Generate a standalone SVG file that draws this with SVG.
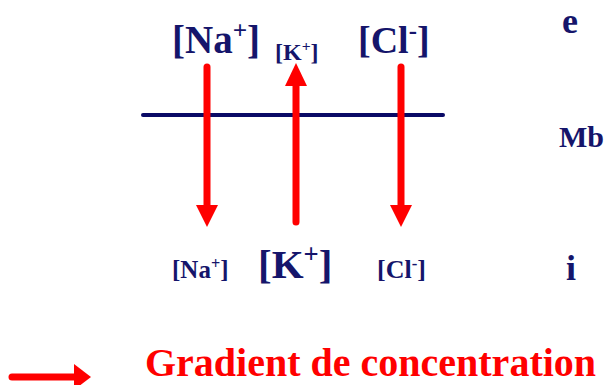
<svg xmlns="http://www.w3.org/2000/svg" width="610" height="385" viewBox="0 0 610 385">
<style>
.t{font-family:"Liberation Serif",Tinos,"Times New Roman",Times,"DejaVu Serif",serif;font-weight:bold;fill:#15156b}
.g{font-family:"Liberation Serif",Tinos,"Times New Roman",Times,"DejaVu Serif",serif;font-weight:bold;fill:#ff0000}
.sup{font-size:65%}
.shaft{stroke:#ff0000;stroke-width:7;stroke-linecap:round;fill:none}
.head{fill:#ff0000}
.mb{stroke:#0a0a66;stroke-width:4;stroke-linecap:round}
</style>
<rect width="610" height="385" fill="#ffffff"/>
<g id="membrane"><line class="mb" x1="143" y1="115" x2="443" y2="115"/></g>
<g id="connectors">
  <line class="shaft" x1="207" y1="67" x2="207" y2="207"/>
  <polygon class="head" points="196,205 218,205 207,227"/>
  <line class="shaft" x1="296" y1="222" x2="296" y2="84"/>
  <polygon class="head" points="285,86 307,86 296,63"/>
  <line class="shaft" x1="401" y1="67" x2="401" y2="207"/>
  <polygon class="head" points="390,205 412,205 401,227"/>
</g>
<g id="na-ext"><text class="t" x="172" y="53" font-size="39">[Na<tspan class="sup" dy="-14">+</tspan><tspan dy="14">]</tspan></text></g>
<g id="k-ext"><text class="t" x="275" y="60" font-size="24">[K<tspan class="sup" dy="-9">+</tspan><tspan dy="9">]</tspan></text></g>
<g id="cl-ext"><text class="t" x="358" y="53" font-size="38">[Cl<tspan class="sup" dy="-14">-</tspan><tspan dy="14">]</tspan></text></g>
<g id="na-int"><text class="t" x="172" y="278" font-size="25">[Na<tspan class="sup" dy="-9">+</tspan><tspan dy="9">]</tspan></text></g>
<g id="k-int"><text class="t" x="258" y="278" font-size="41">[K<tspan class="sup" dy="-15">+</tspan><tspan dy="15">]</tspan></text></g>
<g id="cl-int"><text class="t" x="377" y="278" font-size="26">[Cl<tspan class="sup" dy="-9">-</tspan><tspan dy="9">]</tspan></text></g>
<g id="label-e"><text class="t" x="562" y="33" font-size="36">e</text></g>
<g id="label-mb"><text class="t" x="559" y="147" font-size="30">Mb</text></g>
<g id="label-i"><text class="t" x="566" y="280" font-size="36">i</text></g>
<g id="legend">
  <line class="shaft" x1="12" y1="377" x2="76" y2="377" stroke-width="8"/>
  <polygon class="head" points="74,364 91,377 74,390"/>
  <text class="g" x="145" y="376" font-size="40">Gradient de concentration</text>
</g>
</svg>
